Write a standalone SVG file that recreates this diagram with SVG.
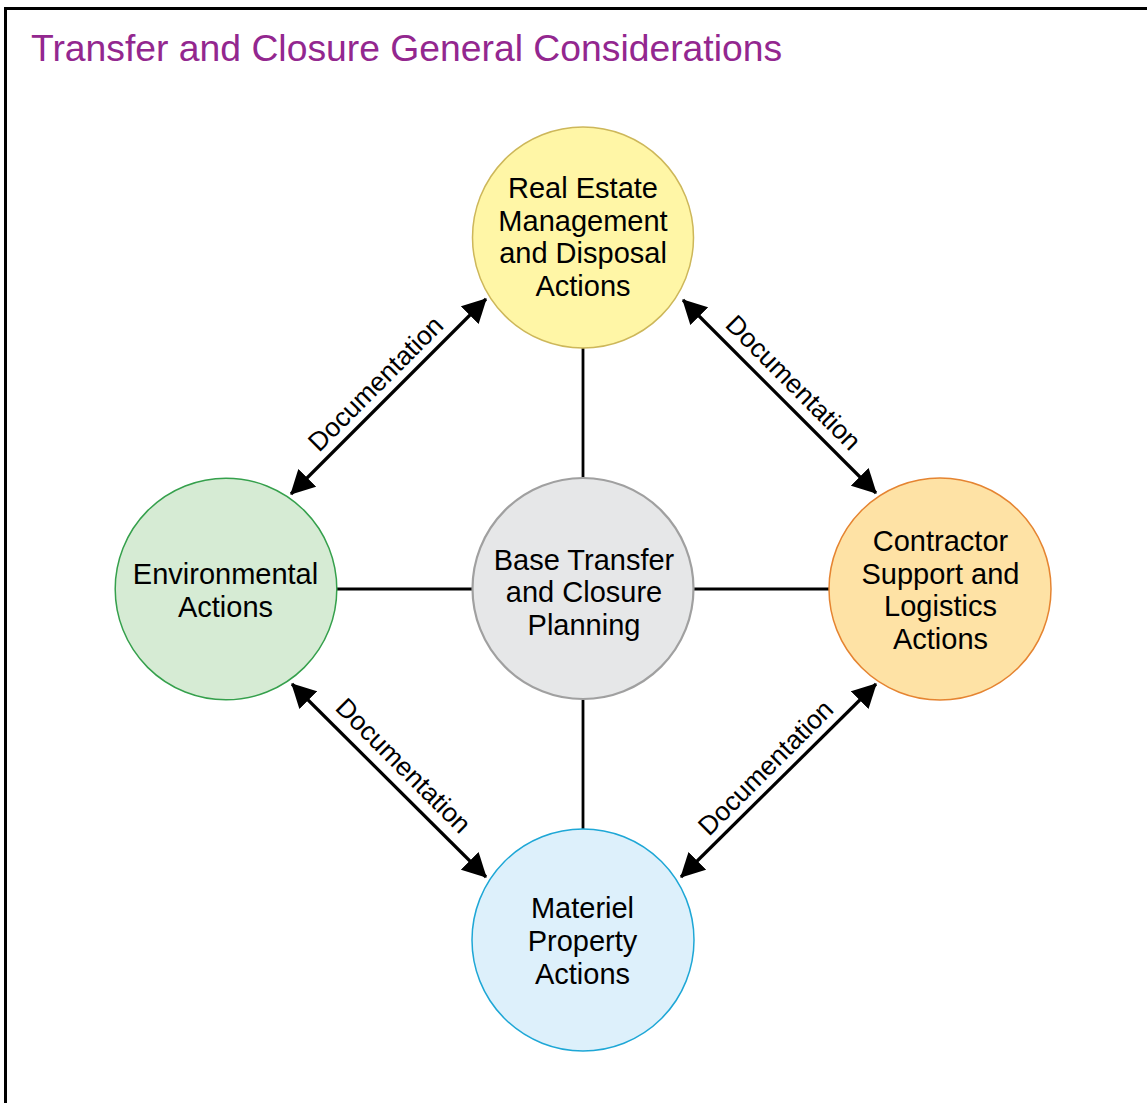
<svg xmlns="http://www.w3.org/2000/svg" width="1147" height="1103" viewBox="0 0 1147 1103">
<style>
  .node { stroke-width: 1.5; }
  .lbl { font-family: "Liberation Sans", Arial, sans-serif; font-size: 29px; fill: #000; text-anchor: middle; }
  .doc { font-family: "Liberation Sans", Arial, sans-serif; font-size: 26.5px; fill: #000; text-anchor: middle; }
  .conn { stroke: #000; stroke-width: 2.8; fill: none; }
  .arrow { stroke: #000; stroke-width: 3.2; fill: none; marker-start: url(#ah); marker-end: url(#ah); }
</style>
<defs>
  <marker id="ah" markerUnits="userSpaceOnUse" markerWidth="24" markerHeight="26" viewBox="0 0 23 24" refX="22" refY="12" orient="auto-start-reverse">
    <path d="M0,0 L23,12 L0,24 z" fill="#000"/>
  </marker>
</defs>
<rect x="0" y="0" width="1147" height="1103" fill="#fff"/>
<rect x="5.5" y="8.5" width="1160" height="1110" fill="none" stroke="#000" stroke-width="3"/>
<text x="31" y="61" font-family="'Liberation Sans', Arial, sans-serif" font-size="37.3px" fill="#93278f">Transfer and Closure General Considerations</text>

<g id="connectors">
  <line class="conn" x1="583" y1="348" x2="583" y2="478"/>
  <line class="conn" x1="583" y1="700" x2="583" y2="829"/>
  <line class="conn" x1="337" y1="589" x2="472" y2="589"/>
  <line class="conn" x1="694" y1="589" x2="829" y2="589"/>
  <line class="arrow" x1="291" y1="494" x2="486" y2="299"/>
  <line class="arrow" x1="683" y1="300" x2="876" y2="493"/>
  <line class="arrow" x1="292" y1="684" x2="486" y2="877"/>
  <line class="arrow" x1="876" y1="684" x2="681" y2="877"/>
  <text class="doc" transform="translate(382,390) rotate(-45)">Documentation</text>
  <text class="doc" transform="translate(787,389) rotate(45)">Documentation</text>
  <text class="doc" transform="translate(397,772) rotate(45)">Documentation</text>
  <text class="doc" transform="translate(772,774) rotate(-45)">Documentation</text>
</g>

<g id="real-estate">
  <circle class="node" cx="583" cy="237.5" r="110.5" fill="#fff6a6" stroke="#cdb75a"/>
  <text class="lbl" x="583" y="198">Real Estate</text>
  <text class="lbl" x="583" y="231">Management</text>
  <text class="lbl" x="583" y="263">and Disposal</text>
  <text class="lbl" x="583" y="296">Actions</text>
</g>

<g id="environmental">
  <circle class="node" cx="226" cy="589" r="110.8" fill="#d6ebd4" stroke="#35a04c"/>
  <text class="lbl" x="225.5" y="584">Environmental</text>
  <text class="lbl" x="225.5" y="617">Actions</text>
</g>

<g id="planning">
  <circle cx="583" cy="588.5" r="110.5" fill="#e6e7e8" stroke="#a0a0a0" stroke-width="2.2"/>
  <text class="lbl" x="584" y="570">Base Transfer</text>
  <text class="lbl" x="584" y="602">and Closure</text>
  <text class="lbl" x="584" y="635">Planning</text>
</g>

<g id="contractor">
  <circle class="node" cx="940" cy="589" r="111" fill="#fee2a5" stroke="#e58431"/>
  <text class="lbl" x="940.5" y="551">Contractor</text>
  <text class="lbl" x="940.5" y="583.5">Support and</text>
  <text class="lbl" x="940.5" y="616">Logistics</text>
  <text class="lbl" x="940.5" y="648.5">Actions</text>
</g>

<g id="materiel">
  <circle class="node" cx="583" cy="940" r="111" fill="#ddf0fb" stroke="#1ea7d6"/>
  <text class="lbl" x="582.5" y="918">Materiel</text>
  <text class="lbl" x="582.5" y="950.5">Property</text>
  <text class="lbl" x="582.5" y="983.5">Actions</text>
</g>
</svg>
